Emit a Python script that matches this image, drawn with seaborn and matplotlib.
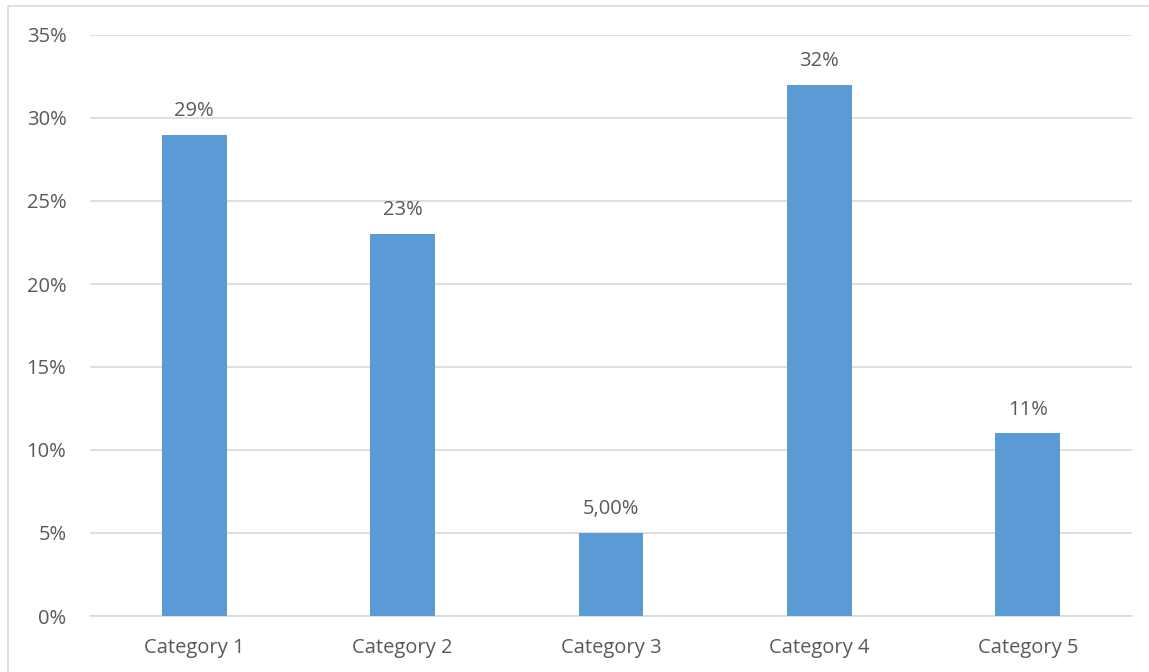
import matplotlib
matplotlib.use("Agg")
import matplotlib.pyplot as plt
import pandas as pd
import seaborn as sns
from matplotlib.patches import Rectangle
from matplotlib.ticker import FuncFormatter, MultipleLocator

categories = ['Category 1', 'Category 2', 'Category 3', 'Category 4', 'Category 5']
values = [0.29, 0.23, 0.05, 0.32, 0.11]
labels = ['29%', '23%', '5,00%', '32%', '11%']

df = pd.DataFrame({'category': categories, 'value': values})

sns.set_style("white")
plt.rcParams['font.family'] = ['Open Sans', 'DejaVu Sans']
text_color = '#595959'
fs = 14.5

fig = plt.figure(figsize=(11.49, 6.72), dpi=100)
ax = fig.add_axes([90 / 1149, 1 - 616 / 672, 1042 / 1149, 581 / 672])

sns.barplot(data=df, x='category', y='value', color='#5B9BD5', width=0.31,
            saturation=1, linewidth=0, ax=ax, zorder=3)

ax.set_ylim(0, 0.35)
ax.set_xlim(-0.5, len(categories) - 0.5)
ax.yaxis.set_major_locator(MultipleLocator(0.05))
ax.yaxis.set_major_formatter(FuncFormatter(lambda v, p: f"{v * 100:.0f}%"))
ax.grid(axis='y', color='#D9D9D9', linewidth=1.2, zorder=0)
ax.set_axisbelow(True)
for s in ['top', 'right', 'left']:
    ax.spines[s].set_visible(False)
ax.spines['bottom'].set_color('#D9D9D9')
ax.spines['bottom'].set_linewidth(1.2)
ax.tick_params(axis='both', length=0, labelsize=fs, labelcolor=text_color)
ax.tick_params(axis='y', pad=17)
ax.tick_params(axis='x', pad=16)
ax.set_xlabel('')
ax.set_ylabel('')

for bar, lab in zip(ax.patches, labels):
    ax.annotate(lab, (bar.get_x() + bar.get_width() / 2, bar.get_height()),
                xytext=(0, 10), textcoords='offset points', ha='center', va='bottom',
                fontsize=fs, color=text_color)

fig.patches.append(Rectangle((8 / 1149, -0.01), 1.02, 1 - 6 / 672 + 0.01,
                             transform=fig.transFigure, fill=False,
                             edgecolor='#D9D9D9', linewidth=1.2))

fig.savefig('out.png', dpi=100, facecolor='white')
